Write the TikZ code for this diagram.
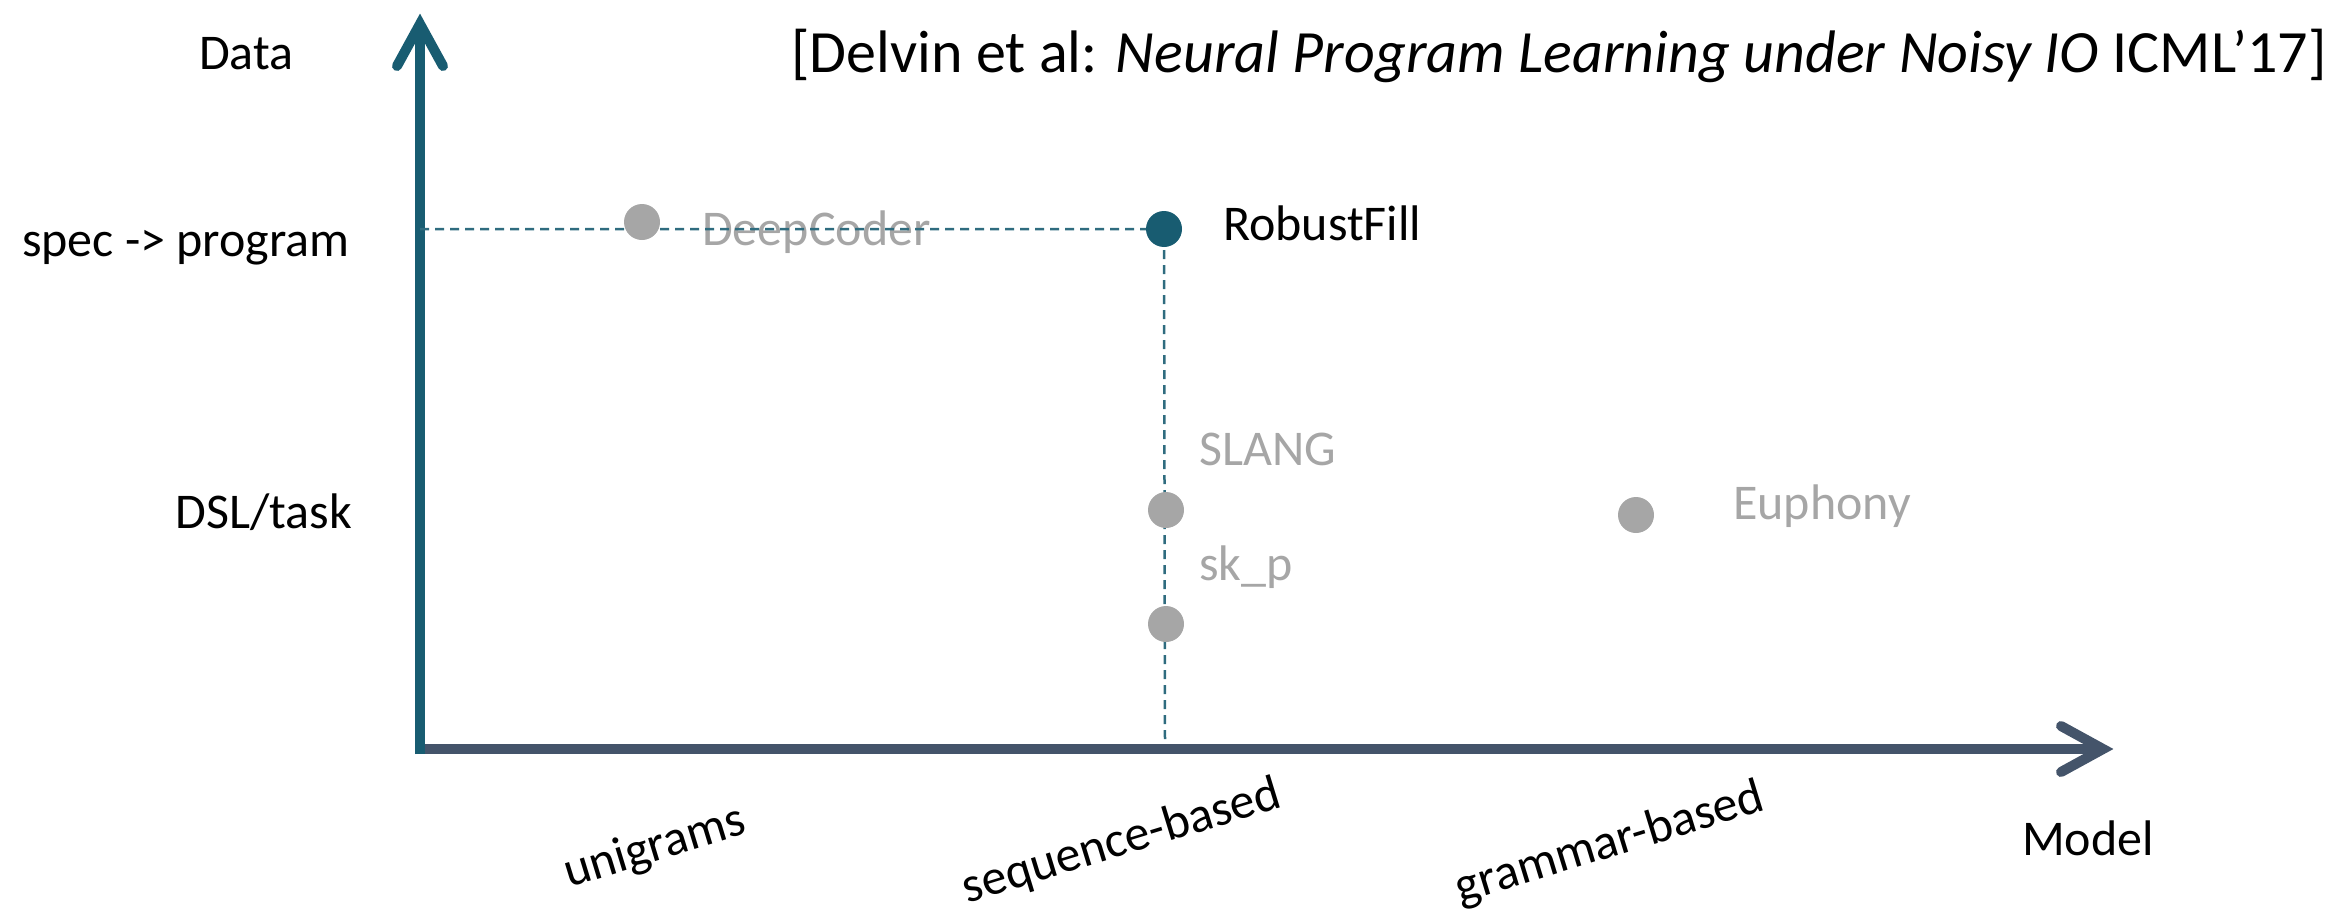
\documentclass[tikz,border=0pt]{standalone}
\usepackage{fontspec}
\setmainfont{Carlito}
\definecolor{axisteal}{RGB}{24,92,113}
\definecolor{axisslate}{RGB}{68,84,106}
\definecolor{pointgray}{RGB}{166,166,166}
\begin{document}
\begin{tikzpicture}[x=1pt,y=-1pt,
  lbl/.style={font=\fontsize{50}{60}\selectfont, inner sep=0pt},
  graylbl/.style={lbl, text=pointgray},
  ticklbl/.style={lbl, rotate=17},
  pt/.style={circle, fill=pointgray, minimum size=36pt, inner sep=0pt},
  keypt/.style={pt, fill=axisteal},
  guide/.style={axisteal!90, line width=2.5pt, dash pattern=on 9pt off 6pt},
  axisbar/.style={line width=10pt},
  chevron/.style={line width=10pt, line cap=round, line join=miter}
]
\useasboundingbox (0,0) rectangle (2351,918);

% axes
\coordinate (origin) at (420,749);
\coordinate (xend) at (2103,749);
\coordinate (ybottom) at (420,754);
\coordinate (yend) at (420,24);
\draw[axisslate, axisbar] (origin) -- (xend);
\draw[axisslate, chevron] (2061,726) -- (xend) -- (2061,772);
\draw[axisteal, axisbar] (ybottom) -- (yend);
\draw[axisteal, chevron] (397,66) -- (yend) -- (443,66);

% axis captions
\node[lbl, anchor=base west] (data) at (199,69) {Data};
\node[lbl, anchor=base east] (specprog) at (350,256) {spec -> program};
\node[lbl, anchor=base east] (dsltask) at (352,528) {DSL/task};
\node[lbl, anchor=base west] (model) at (2022,855) {Model};
\node[ticklbl] (unigrams) at (655,848) {unigrams};
\node[ticklbl] (seqbased) at (1122,842) {sequence-based};
\node[ticklbl] (grambased) at (1610,844) {grammar-based};

% citation
\node[font=\fontsize{60}{72}\selectfont, inner sep=0pt, anchor=base west] (cite) at (791,72)
  {[Delvin et al: \textit{Neural Program Learning under Noisy IO} ICML’17]};

% point labels
\node[graylbl, anchor=base west] (deepcoderlbl) at (702,245) {DeepCoder};
\node[lbl, anchor=base west] (robustfilllbl) at (1223,240) {RobustFill};
\node[graylbl, anchor=base west] (slanglbl) at (1199,465) {SLANG};
\node[graylbl, anchor=base west] (skplbl) at (1199,580) {sk\_p};
\node[graylbl, anchor=base west] (euphonylbl) at (1733,519) {Euphony};

% guide lines through RobustFill
\coordinate (yguide) at (420,229);
\coordinate (prf) at (1164,229);
\coordinate (xguide) at (1165,744);
\draw[guide] (yguide) -- (prf) -- (xguide);

% points
\node[pt] (deepcoder) at (642,222) {};
\node[keypt] (robustfill) at (prf) {};
\node[pt] (slang) at (1166,510) {};
\node[pt] (skp) at (1166,624) {};
\node[pt] (euphony) at (1636,515) {};
\end{tikzpicture}
\end{document}
